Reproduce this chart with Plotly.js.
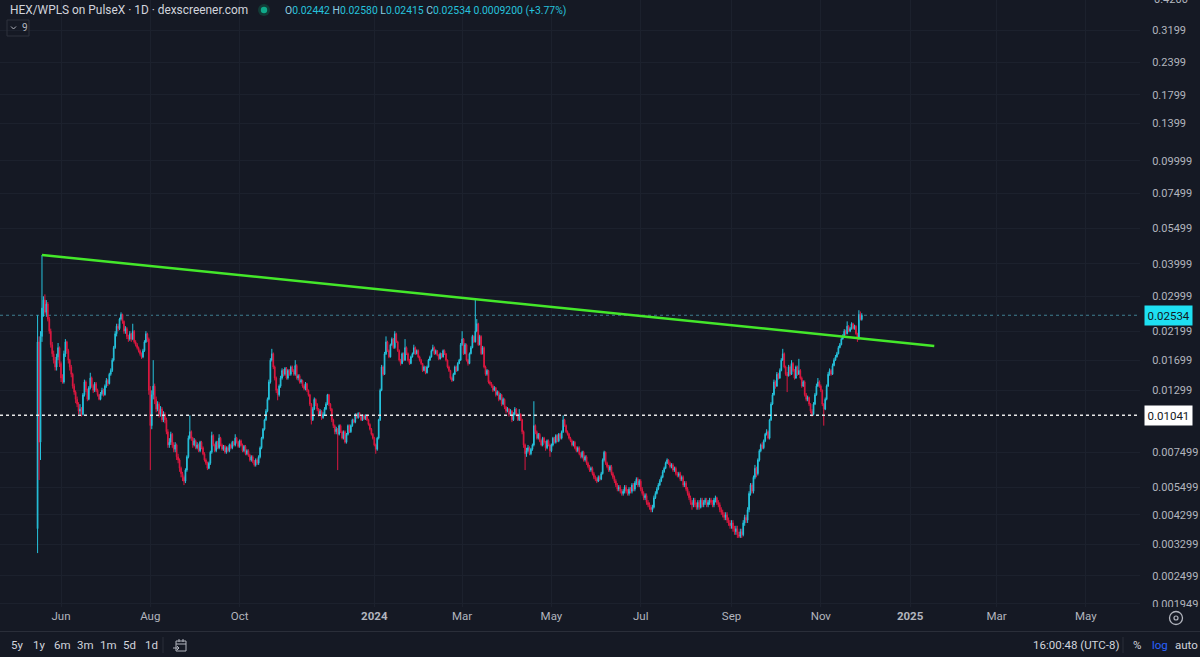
<!DOCTYPE html>
<html><head><meta charset="utf-8">
<script src="https://cdn.plot.ly/plotly-3.0.1.min.js"></script>
<style>html,body{margin:0;padding:0;background:#151924;overflow:hidden}#chart{width:1200px;height:657px}</style>
</head><body><div id="chart"></div>
<script>
// ---- DATA (prices in units of 0.00001 WPLS) ----
const startDate = [2023, 4, 16];   // first daily candle: 2023-05-16
const priceUnit = 1e-5;
const firstOpen = 380;
const closes = [
2000,820,2100,2700,2900,2600,2800,2450,2200,1950,
1800,1700,1600,1750,1900,1650,1450,1400,1800,2000,
1850,1700,1600,1500,1350,1280,1200,1150,1080,1100,
1050,1250,1400,1300,1200,1330,1450,1350,1300,1380,
1300,1250,1200,1260,1300,1250,1350,1420,1380,1500,
1550,1700,1900,2150,2300,2250,2450,2550,2400,2200,
2250,2100,2050,2150,2050,2200,2000,1950,1900,1850,
1800,1750,1850,2000,2150,2050,1300,950,1250,1350,
1200,1100,1150,1050,1100,1000,1050,1000,900,800,
820,880,800,770,800,720,700,650,620,600,
580,640,720,850,900,850,800,830,780,800,
760,820,780,740,700,680,650,680,750,870,
800,760,820,780,850,800,770,790,750,780,
760,800,780,820,800,850,820,790,830,800,
760,790,740,760,730,700,720,690,670,700,
680,720,780,850,920,1000,1080,1200,1400,1700,
1800,1600,1450,1300,1250,1350,1450,1550,1500,1580,
1450,1550,1500,1600,1550,1500,1620,1450,1480,1400,
1420,1350,1320,1380,1300,1250,1150,1000,1100,1200,
1150,1100,1050,1080,1020,1050,1100,1150,1250,1150,
1100,1000,950,900,920,880,950,900,850,900,
820,880,950,900,950,1000,980,1050,1020,1060,
1030,1000,1040,1010,1040,1000,960,920,880,850,
800,770,850,1000,1300,1600,1500,1800,2000,1850,
1750,1950,2050,1900,2150,2000,1850,1700,1650,1800,
1700,1900,1800,1700,1650,1750,1800,1900,1800,1850,
1750,1700,1650,1550,1600,1520,1600,1700,1750,1850,
1900,1800,1850,1780,1720,1800,1750,1850,1800,1700,
1600,1550,1450,1420,1500,1600,1550,1650,1700,1950,
2050,1800,1950,1700,1650,1800,1900,2100,2000,2200,
2350,1950,2100,1800,1900,1600,1500,1550,1400,1380,
1350,1300,1330,1250,1280,1200,1250,1150,1200,1120,
1080,1100,1050,1080,1000,1050,1100,1050,1000,1050,
1000,900,800,740,760,780,740,770,800,950,
900,850,880,830,800,850,820,780,830,800,
760,800,850,820,870,830,880,850,900,1000,
950,900,880,850,830,800,820,780,760,780,
740,720,750,700,720,680,660,640,650,620,
600,590,580,600,590,620,700,750,680,660,
640,660,620,600,580,560,540,550,530,520,
530,550,530,520,540,530,560,540,570,590,
560,580,540,520,500,510,480,470,460,450,
460,500,520,540,560,580,600,630,650,680,
700,680,660,670,640,650,620,610,620,590,
600,560,570,540,520,500,480,470,490,470,
460,480,460,490,470,480,490,470,480,490,
480,470,490,500,480,470,450,440,430,420,
430,410,400,390,400,380,370,380,360,355,
370,360,400,420,410,450,520,560,530,600,
650,620,700,760,800,780,830,880,900,850,
1000,1150,1250,1400,1350,1500,1450,1550,1700,1800,
1600,1500,1480,1600,1500,1650,1550,1450,1600,1500,
1550,1450,1350,1400,1250,1200,1220,1150,1080,1050,
1150,1250,1350,1400,1350,1300,1150,1100,1200,1350,
1500,1550,1500,1620,1700,1750,1800,1900,1950,2050,
2100,2200,2150,2300,2200,2250,2350,2250,2300,2150,
2050,2550,2442,2534];
const highs = [
2534,2100,2200,4330,3000,3050,2900,2850,2500,2250,
2000,1850,1750,1800,1980,1920,1680,1500,1850,2050,
2020,1880,1720,1630,1520,1380,1300,1230,1170,1150,
1120,1270,1430,1420,1320,1350,1520,1470,1370,1400,
1400,1320,1260,1280,1330,1320,1370,1450,1440,1520,
1580,1730,1930,2200,2350,2350,2480,2600,2570,2420,
2300,2280,2130,2200,2170,2350,2220,2030,1980,1920,
1870,1820,1880,2030,2200,2170,2080,1350,1300,1700,
1380,1230,1180,1170,1130,1120,1080,1070,1020,920,
850,900,890,820,820,810,740,710,660,630,
610,650,730,870,1040,910,860,850,840,820,
810,830,830,790,750,710,690,690,760,900,
880,810,830,830,880,860,810,800,800,790,
790,810,810,830,830,880,860,830,840,840,
810,800,800,770,770,740,730,730,700,710,
710,730,790,860,930,1010,1100,1220,1430,1730,
1880,1820,1620,1470,1320,1370,1480,1580,1570,1600,
1600,1570,1570,1620,1620,1570,1700,1640,1500,1500,
1440,1430,1370,1400,1390,1310,1260,1160,1120,1220,
1210,1160,1110,1100,1090,1070,1120,1170,1260,1260,
1160,1110,1010,960,940,930,960,960,910,910,
910,890,960,960,960,1010,1010,1060,1060,1070,
1070,1040,1050,1050,1050,1050,1010,970,930,890,
860,810,860,1010,1320,1630,1620,1830,2100,2020,
1870,1970,2080,2070,2200,2170,2020,1870,1720,1820,
1820,2050,1920,1820,1720,1770,1820,1950,1920,1870,
1870,1770,1720,1660,1620,1610,1620,1720,1770,1870,
1950,1920,1870,1860,1790,1820,1810,1870,1870,1810,
1710,1620,1560,1470,1520,1620,1620,1670,1720,1980,
2200,2070,1980,1970,1720,1820,1930,2130,2120,2950,
2450,2370,2130,2120,1930,1920,1620,1570,1560,1420,
1400,1370,1350,1340,1300,1290,1270,1260,1220,1210,
1130,1120,1110,1100,1090,1070,1120,1110,1060,1100,
1060,1010,910,810,780,800,790,780,810,1180,
960,910,890,890,840,860,860,830,840,840,
810,810,860,860,880,880,890,890,910,1040,
1010,960,910,890,860,840,830,830,790,790,
790,750,760,760,730,730,690,670,660,660,
630,610,600,610,610,630,710,760,755,690,
670,670,670,630,610,590,570,560,560,540,
540,560,560,540,550,550,570,570,580,600,
600,590,590,550,530,520,520,490,480,470,
470,510,530,550,570,590,610,640,660,690,
710,705,690,680,680,660,660,630,630,630,
610,610,580,580,550,530,510,490,500,500,
480,490,490,500,500,490,500,500,490,500,
500,490,500,510,505,490,480,460,450,440,
440,440,420,410,410,410,390,390,390,370,
380,380,410,430,430,460,530,570,570,610,
670,660,710,770,810,820,840,890,920,910,
1010,1170,1270,1430,1420,1530,1520,1580,1730,1880,
1820,1620,1530,1630,1620,1700,1670,1570,1620,1620,
1720,1570,1470,1420,1420,1270,1240,1230,1160,1100,
1170,1270,1380,1450,1420,1370,1310,1160,1220,1370,
1530,1580,1570,1650,1730,1780,1830,1930,1980,2080,
2140,2240,2230,2400,2320,2280,2380,2370,2330,2320,
2170,2650,2620,2580];
const lows = [
306,586,700,2000,2500,2550,2500,2400,2150,1900,
1750,1650,1550,1550,1700,1600,1400,1380,1380,1750,
1800,1650,1550,1460,1320,1250,1160,1120,1050,1050,
1030,1040,1230,1280,1180,1190,1310,1330,1270,1280,
1280,1230,1190,1190,1240,1230,1240,1330,1350,1370,
1480,1530,1680,1880,2100,2200,2220,2420,2350,2150,
2150,2050,2000,2020,2000,2030,1970,1920,1870,1820,
1770,1720,1730,1830,1980,2000,1250,640,920,1200,
1150,1070,1080,1020,1030,980,980,970,880,780,
780,800,780,750,750,700,680,630,600,580,
560,570,630,710,840,830,780,790,770,770,
750,750,770,730,690,670,640,645,670,740,
790,750,750,770,770,790,760,760,740,740,
750,750,770,770,790,790,810,780,780,790,
750,750,730,730,720,690,690,680,660,660,
670,670,710,770,840,910,990,1070,1190,1380,
1680,1570,1420,1270,1190,1230,1330,1430,1470,1480,
1430,1430,1480,1480,1530,1480,1480,1430,1420,1380,
1380,1330,1300,1300,1280,1230,1130,960,990,1090,
1130,1080,1030,1040,1000,1010,1040,1090,1140,1130,
1080,980,930,880,880,640,870,890,840,840,
810,810,870,890,890,940,970,970,1010,1010,
1020,990,990,1000,1000,990,950,910,870,840,
790,740,760,840,990,1290,1480,1490,1780,1830,
1730,1740,1930,1880,1880,1980,1830,1680,1620,1640,
1680,1690,1780,1680,1630,1640,1740,1790,1780,1790,
1730,1680,1630,1530,1540,1500,1510,1590,1690,1740,
1840,1780,1790,1760,1700,1710,1730,1740,1780,1680,
1580,1530,1430,1400,1410,1490,1530,1540,1640,1690,
1930,1780,1790,1680,1620,1640,1790,1890,1980,1990,
2180,1930,1940,1780,1790,1580,1480,1480,1380,1360,
1330,1280,1290,1230,1240,1180,1190,1130,1140,1100,
1060,1070,1030,1040,980,990,1040,1030,990,990,
990,880,780,640,720,750,730,730,760,790,
880,840,840,820,790,790,810,760,770,790,
720,750,790,810,810,820,820,840,840,890,
940,890,870,840,820,790,790,770,750,750,
730,710,710,690,690,670,650,630,630,610,
590,580,570,575,580,585,615,690,670,650,
630,630,610,590,570,550,530,530,520,510,
510,520,520,510,510,520,520,530,530,560,
550,550,530,510,490,490,470,460,450,440,
440,455,495,515,535,555,575,595,625,645,
675,670,650,650,630,630,610,600,600,580,
580,550,550,530,510,490,470,450,460,460,
450,450,450,455,460,460,470,460,460,470,
470,460,460,480,470,460,440,430,420,410,
410,400,390,380,380,370,360,360,350,350,
350,350,355,390,400,400,440,510,520,520,
590,600,610,690,750,770,770,820,870,840,
840,990,1140,1240,1320,1340,1430,1440,1540,1690,
1580,1480,1280,1470,1480,1490,1530,1430,1440,1480,
1490,1430,1330,1340,1230,1180,1180,1130,1060,1030,
1040,1140,1240,1340,1330,1280,1130,950,1090,1190,
1340,1480,1480,1490,1610,1690,1740,1790,1890,1940,
2040,2090,2120,2140,2180,2180,2230,2230,2230,2130,
2000,2040,2420,2415];

const yTickVals = [0.3199,0.2399,0.1799,0.1399,0.09999,0.07499,0.05499,0.03999,0.02999,0.02199,0.01699,0.01299,0.007499,0.005499,0.004299,0.003299,0.002499,0.001949];
const yTickText = ['0.3199','0.2399','0.1799','0.1399','0.09999','0.07499','0.05499','0.03999','0.02999','0.02199','0.01699','0.01299','0.007499','0.005499','0.004299','0.003299','0.002499','0.001949'];
const yTopLabel = '0.4200';
const xTickVals = ['2023-06-01','2023-08-01','2023-10-01','2024-01-01','2024-03-01','2024-05-01','2024-07-01','2024-09-01','2024-11-01','2025-01-01','2025-03-01','2025-05-01'];
const xTickText = ['Jun','Aug','Oct','<b>2024</b>','Mar','May','Jul','Sep','Nov','<b>2025</b>','Mar','May'];
const trendX = ['2023-05-19','2025-01-17 12:00'];
const trendY = [0.0433, 0.0193];
const lastPrice = 0.02534;
const refLevel = 0.01041;
const headerTitle = 'HEX/WPLS on PulseX · 1D · dexscreener.com';
const ohlcLabels = ['O','H','L','C'];
const ohlcValues = ['0.02442','0.02580','0.02415','0.02534'];
const changeText = '0.0009200 (+3.77%)';
const rangeButtons = ['5y','1y','6m','3m','1m','5d','1d'];
const clockText = '16:00:48 (UTC-8)';

// ---- BUILD ----
const n = Math.min(closes.length, highs.length, lows.length);
const dates = [], o = [], h = [], l = [], c = [];
for (let i = 0; i < n; i++) {
  dates.push(new Date(Date.UTC(startDate[0], startDate[1], startDate[2] + i)).toISOString().slice(0,10));
  o.push((i === 0 ? firstOpen : closes[i-1]) * priceUnit);
  c.push(closes[i] * priceUnit);
  h.push(highs[i] * priceUnit);
  l.push(lows[i] * priceUnit);
}

const UP = '#26c2dc', DOWN = '#dc1840', BG = '#151924', GRID = '#1c212d', TXT = '#b2b5be';
const FONT = 'Roboto, "Liberation Sans", sans-serif';
const PW = 1140, PH = 607;
const px = x => x / PW;
const py = y => (PH - y) / PH;

const traces = [
  {type:'candlestick', x:dates, open:o, high:h, low:l, close:c,
   increasing:{line:{color:UP,width:1}, fillcolor:UP},
   decreasing:{line:{color:DOWN,width:1}, fillcolor:DOWN},
   whiskerwidth:0, hoverinfo:'skip', showlegend:false},
  {type:'scatter', mode:'lines', x:trendX, y:trendY,
   line:{color:'#44e82a', width:2.5}, hoverinfo:'skip', showlegend:false}
];

const ohlcHtml = ohlcLabels.map((k,i)=>`<span style="color:#8ccde0">${k}</span><span style="color:${UP}">${ohlcValues[i]}</span>`).join(' ')
  + ` <span style="color:${UP}">${changeText}</span>`;

const annotations = [
  {xref:'paper', yref:'paper', x:px(8), y:py(10), xanchor:'left', yanchor:'middle', showarrow:false,
   text:headerTitle, font:{family:FONT, size:11.9, color:'#d1d4dc'}},
  {xref:'paper', yref:'paper', x:px(283), y:py(10), xanchor:'left', yanchor:'middle', showarrow:false,
   text:ohlcHtml, font:{family:FONT, size:10.4, color:UP}},
  {xref:'paper', yref:'paper', x:px(20), y:py(28), xanchor:'left', yanchor:'middle', showarrow:false,
   text:'9', font:{family:FONT, size:10, color:'#b2b5be'}},
  {xref:'paper', yref:'paper', x:px(1152), y:py(-1), xanchor:'left', yanchor:'middle', showarrow:false,
   text:yTopLabel, font:{family:FONT, size:11, color:TXT}},
  {xref:'paper', yref:'y', x:px(1144), y:Math.log10(refLevel), xanchor:'left', yanchor:'middle', showarrow:false,
   text:refLevel.toFixed(5), bgcolor:'#ffffff', borderpad:2.5, font:{family:FONT, size:11.5, color:'#131722'}},
  {xref:'paper', yref:'y', x:px(1144), y:Math.log10(lastPrice), xanchor:'left', yanchor:'middle', showarrow:false,
   text:lastPrice.toFixed(5), bgcolor:'#1ee0f2', borderpad:2.5, font:{family:FONT, size:11.5, color:'#131722'}},
  {xref:'paper', yref:'paper', x:px(1031), y:py(645), xanchor:'left', yanchor:'middle', showarrow:false,
   text:clockText, font:{family:FONT, size:11.5, color:'#d1d4dc'}},
  {xref:'paper', yref:'paper', x:px(1131), y:py(645), xanchor:'left', yanchor:'middle', showarrow:false,
   text:'%', font:{family:FONT, size:11.5, color:'#d1d4dc'}},
  {xref:'paper', yref:'paper', x:px(1150), y:py(645), xanchor:'left', yanchor:'middle', showarrow:false,
   text:'log', font:{family:FONT, size:11.5, color:'#2962ff'}},
  {xref:'paper', yref:'paper', x:px(1173), y:py(645), xanchor:'left', yanchor:'middle', showarrow:false,
   text:'auto', font:{family:FONT, size:11.5, color:'#d1d4dc'}}
];
const btnX = [9,31,52,75,98,121,143];
rangeButtons.forEach((t,i)=>annotations.push({xref:'paper', yref:'paper', x:px(btnX[i]), y:py(645), xanchor:'left', yanchor:'middle', showarrow:false,
  text:t, font:{family:FONT, size:11.5, color:'#d1d4dc'}}));

const shapes = [
  {type:'line', xref:'paper', yref:'y', x0:0, x1:1, y0:refLevel, y1:refLevel, line:{color:'#e8e8e8', width:1.5, dash:'dot'}, layer:'above'},
  {type:'line', xref:'paper', yref:'y', x0:0, x1:1, y0:lastPrice, y1:lastPrice, line:{color:'#3f7f90', width:1, dash:'dot'}, layer:'below'},
  {type:'rect', xref:'paper', yref:'paper', x0:px(1141), x1:px(1200), y0:py(607), y1:py(631), fillcolor:BG, line:{width:0}, layer:'above'},
  {type:'line', xref:'paper', yref:'paper', x0:0, x1:px(1200), y0:py(631.5), y1:py(631.5), line:{color:'#2a2e39', width:1}, layer:'above'},
  {type:'line', xref:'paper', yref:'paper', x0:px(163), x1:px(163), y0:py(637), y1:py(653), line:{color:'#2a2e39', width:1}, layer:'above'},
  {type:'line', xref:'paper', yref:'paper', x0:px(1123), x1:px(1123), y0:py(637), y1:py(653), line:{color:'#2a2e39', width:1}, layer:'above'},
  // status dot
  {type:'circle', xref:'paper', yref:'paper', xsizemode:'pixel', ysizemode:'pixel', xanchor:px(264), yanchor:py(10), x0:-6, x1:6, y0:-6, y1:6, fillcolor:'#123b36', line:{width:0}, layer:'above'},
  {type:'circle', xref:'paper', yref:'paper', xsizemode:'pixel', ysizemode:'pixel', xanchor:px(264), yanchor:py(10), x0:-3.2, x1:3.2, y0:-3.2, y1:3.2, fillcolor:'#10a98a', line:{width:0}, layer:'above'},
  // "9" dropdown box and chevron
  {type:'rect', xref:'paper', yref:'paper', x0:px(7), x1:px(29), y0:py(20), y1:py(36), line:{color:'#2e323d', width:1}, layer:'above'},
  {type:'path', xref:'paper', yref:'paper', path:`M ${px(11)} ${py(26.5)} L ${px(13.5)} ${py(29)} L ${px(16)} ${py(26.5)}`, line:{color:'#b2b5be', width:1}, layer:'above'},
  // calendar icon
  {type:'rect', xref:'paper', yref:'paper', x0:px(176), x1:px(186), y0:py(641), y1:py(651), line:{color:'#b2b5be', width:1}, layer:'above'},
  {type:'line', xref:'paper', yref:'paper', x0:px(176), x1:px(186), y0:py(644), y1:py(644), line:{color:'#b2b5be', width:1}, layer:'above'},
  {type:'line', xref:'paper', yref:'paper', x0:px(179), x1:px(179), y0:py(639), y1:py(642), line:{color:'#b2b5be', width:1}, layer:'above'},
  {type:'line', xref:'paper', yref:'paper', x0:px(183), x1:px(183), y0:py(639), y1:py(642), line:{color:'#b2b5be', width:1}, layer:'above'},
  {type:'path', xref:'paper', yref:'paper', path:`M ${px(173)} ${py(648)} L ${px(179)} ${py(648)} M ${px(177)} ${py(646)} L ${px(179)} ${py(648)} L ${px(177)} ${py(650)}`, line:{color:'#b2b5be', width:1}, fillcolor:'rgba(0,0,0,0)', layer:'above'},
  // gear icon
  {type:'circle', xref:'paper', yref:'paper', xsizemode:'pixel', ysizemode:'pixel', xanchor:px(1176), yanchor:py(618), x0:-6.5, x1:6.5, y0:-6.5, y1:6.5, line:{color:'#b2b5be', width:1.3}, layer:'above'},
  {type:'circle', xref:'paper', yref:'paper', xsizemode:'pixel', ysizemode:'pixel', xanchor:px(1176), yanchor:py(618), x0:-2, x1:2, y0:-2, y1:2, line:{color:'#b2b5be', width:1.2}, layer:'above'}
];

const layout = {
  width:1200, height:657,
  margin:{l:0, r:60, t:0, b:50, pad:0},
  paper_bgcolor:BG, plot_bgcolor:BG,
  showlegend:false, dragmode:false, hovermode:false,
  font:{family:FONT, color:TXT},
  xaxis:{type:'date', range:['2023-04-20 08:00','2025-06-07 00:30'], rangeslider:{visible:false},
    tickmode:'array', tickvals:xTickVals, ticktext:xTickText,
    showgrid:true, gridcolor:GRID, gridwidth:1, zeroline:false, showline:false,
    ticks:'', tickfont:{family:FONT, size:11.5, color:TXT}, fixedrange:true},
  yaxis:{type:'log', side:'right', range:[-2.72244,-0.37914],
    tickmode:'array', tickvals:yTickVals, ticktext:yTickText,
    showgrid:true, gridcolor:GRID, gridwidth:1, zeroline:false, showline:false,
    ticks:'outside', ticklen:9, tickcolor:'rgba(0,0,0,0)',
    tickfont:{family:FONT, size:11, color:TXT}, fixedrange:true},
  annotations, shapes
};

Plotly.newPlot('chart', traces, layout, {staticPlot:true, displayModeBar:false});
</script></body></html>
